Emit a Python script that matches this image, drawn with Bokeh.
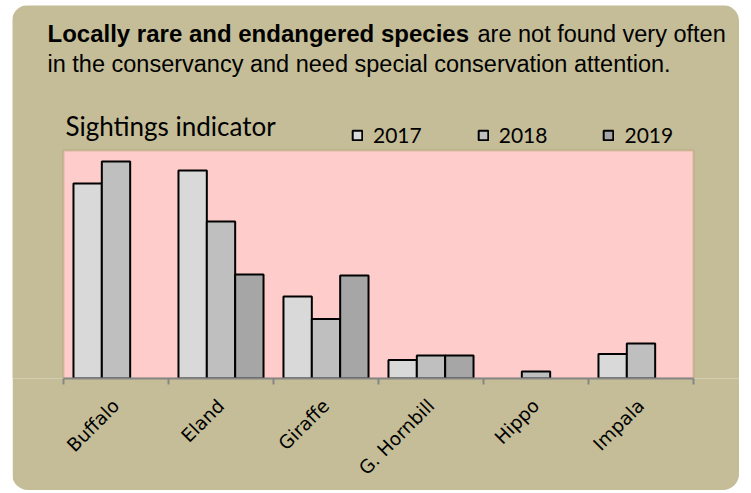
import math
from bokeh.plotting import figure
from bokeh.models import (ColumnDataSource, Range1d, LinearAxis, FixedTicker, Label,
                          Legend, LegendItem, BoxAnnotation)
from bokeh.transform import dodge
from bokeh.embed import file_html
from bokeh.resources import INLINE

species = ["Buffalo", "Eland", "Giraffe", "G. Hornbill", "Hippo", "Impala"]
years = ["2017", "2018", "2019"]
v2017 = [195, 208, 82, 18.5, 0, 24.5]
v2018 = [217, 157, 59.5, 23, 7, 35]
v2019 = [0, 104, 103, 23, 0, 0]
bar_colors = ["#D9D9D9", "#BFBFBF", "#A6A6A6"]

TAN = "#C4BD97"
n = len(species)
YMAX = 228          # height of the pink plot area in value units
CAT_PX = 105.0      # pixels per category
LEFT_PAD = 51 / CAT_PX
RIGHT_PAD = 46 / CAT_PX

p = figure(frame_width=727, frame_height=373,
           x_range=Range1d(-0.5 - LEFT_PAD, n - 0.5 + RIGHT_PAD), y_range=Range1d(0, 373),
           output_backend="svg", toolbar_location=None,
           x_axis_location=None, y_axis_location=None,
           min_border_left=0, min_border_right=0, min_border_top=0, min_border_bottom=112,
           background_fill_color=TAN, border_fill_color=TAN, outline_line_color=None)
p.margin = (5, 0, 0, 12)
p.styles = {"border-radius": "16px", "overflow": "hidden"}
p.xgrid.visible = False
p.ygrid.visible = False

# pink plot area with olive border
p.add_layout(BoxAnnotation(left=-0.5, right=n - 0.5, bottom=0, top=YMAX,
                           fill_color="#FFCCCC", fill_alpha=1.0,
                           line_color="#948A54", line_width=2, level="underlay"))

renderers = []
offsets = [-0.27, 0.0, 0.27]
for yr, vals, col, off in zip(years, [v2017, v2018, v2019], bar_colors, offsets):
    xs = [i for i, v in enumerate(vals) if v > 0]
    tops = [v for v in vals if v > 0]
    src = ColumnDataSource(dict(x=xs, top=tops))
    r = p.vbar(x=dodge("x", off), top="top", width=0.27, source=src,
               fill_color=col, line_color="black", line_width=2)
    renderers.append(r)

ax = LinearAxis(ticker=FixedTicker(ticks=list(range(n)), minor_ticks=[i - 0.5 for i in range(n + 1)]),
                bounds=(-0.5, n - 0.5),
                major_label_overrides={i: s for i, s in enumerate(species)},
                major_label_orientation=math.pi / 4,
                major_label_text_font="DejaVu Sans", major_label_text_font_size="18.5px",
                major_label_text_color="black", major_label_standoff=18,
                axis_line_color="#868686", axis_line_width=2,
                major_tick_line_color=None, major_tick_out=0, major_tick_in=0,
                minor_tick_line_color="#868686", minor_tick_line_width=2,
                minor_tick_out=6, minor_tick_in=0)
p.add_layout(ax, "below")

legend = Legend(items=[LegendItem(label=yr, renderers=[r]) for yr, r in zip(years, renderers)],
                orientation="horizontal", location=(339, 231),
                glyph_width=12, glyph_height=12, label_standoff=10, spacing=55,
                label_text_font="Lato", label_text_font_size="21px", label_text_color="black",
                background_fill_alpha=0, border_line_alpha=0, padding=0, margin=0)
p.add_layout(legend)

p.add_layout(Label(x=35, y=345, x_units="screen", y_units="data", text_baseline="alphabetic",
                   text="Locally rare and endangered species", text_font="Liberation Sans",
                   text_font_style="bold", text_font_size="24px", text_color="black"))
p.add_layout(Label(x=465, y=345, x_units="screen", y_units="data", text_baseline="alphabetic",
                   text="are not found very often", text_font="Liberation Sans",
                   text_font_size="23.5px", text_color="black"))
p.add_layout(Label(x=35, y=315, x_units="screen", y_units="data", text_baseline="alphabetic",
                   text="in the conservancy and need special conservation attention.",
                   text_font="Liberation Sans", text_font_size="23.5px", text_color="black"))
p.add_layout(Label(x=53, y=253, x_units="screen", y_units="data", text_baseline="alphabetic",
                   text="Sightings indicator", text_font="Lato", text_font_size="26px",
                   text_color="black"))

open("out.html", "w").write(file_html(p, INLINE))
